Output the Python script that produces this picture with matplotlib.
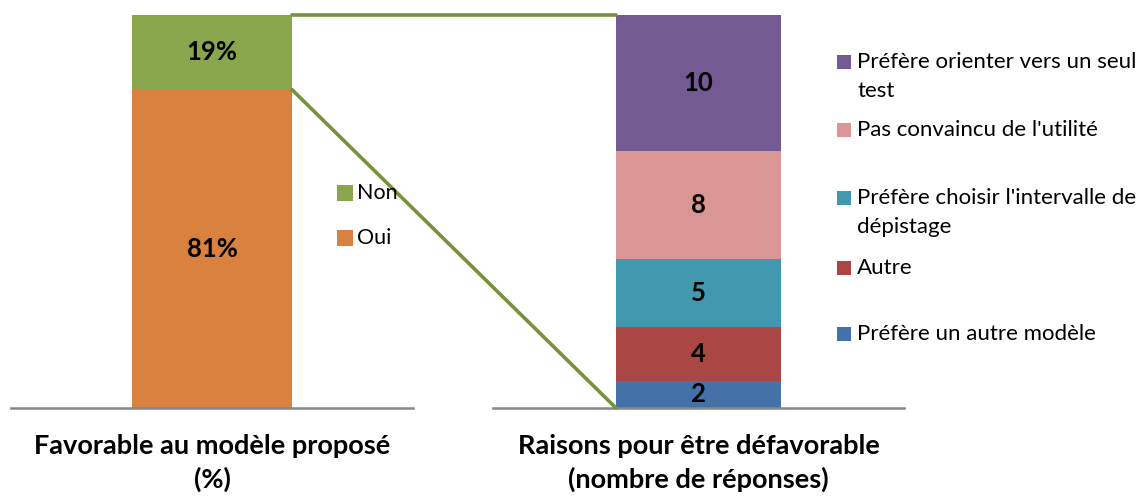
import matplotlib
matplotlib.use("Agg")
import matplotlib.pyplot as plt
from matplotlib.patches import ConnectionPatch, Rectangle

plt.rcParams['font.family'] = ['Lato', 'DejaVu Sans']

# Data
fav_labels = ["Oui", "Non"]
fav_values = [81, 19]
fav_colors = ["#D9823F", "#8AA64D"]

reason_labels = ["Préfère un autre modèle", "Autre",
                 "Préfère choisir l'intervalle de\ndépistage",
                 "Pas convaincu de l'utilité",
                 "Préfère orienter vers un seul\ntest"]
reason_values = [2, 4, 5, 8, 10]
reason_colors = ["#4472A8", "#AA4644", "#4198AF", "#D99694", "#735A92"]

left_title = "Favorable au modèle proposé\n(%)"
right_title = "Raisons pour être défavorable\n(nombre de réponses)"

W, H = 1144, 497
fig = plt.figure(figsize=(W/100, H/100), dpi=100)

def ax_rect(x0, x1, ytop, ybot):
    return [x0/W, 1-ybot/H, (x1-x0)/W, (ybot-ytop)/H]

ax1 = fig.add_axes(ax_rect(11, 413, 15, 408))
ax2 = fig.add_axes(ax_rect(493, 904, 15, 408))

bw1 = 160/402
bw2 = 165/411
for ax in (ax1, ax2):
    for s in ("top", "left", "right"):
        ax.spines[s].set_visible(False)
    ax.spines["bottom"].set_color("#868686")
    ax.spines["bottom"].set_linewidth(1.8)
    ax.set_xticks([])
    ax.set_yticks([])
    ax.set_xlim(-0.5, 0.5)
    ax.patch.set_alpha(0)

LBL = 18.5

# Left stacked bar
bottom = 0
for lab, v, c in zip(fav_labels, fav_values, fav_colors):
    ax1.bar(0, v, bottom=bottom, width=bw1, color=c, label=lab, zorder=2)
    ax1.text(0, bottom + v/2, f"{v}%", ha="center", va="center",
             fontsize=LBL, fontweight="bold", color="black", zorder=3)
    bottom += v
ax1.set_ylim(0, sum(fav_values))

# Right stacked bar
bottom = 0
for lab, v, c in zip(reason_labels, reason_values, reason_colors):
    ax2.bar(0, v, bottom=bottom, width=bw2, color=c, label=lab, zorder=2)
    ax2.text(0, bottom + v/2, f"{v}", ha="center", va="center",
             fontsize=LBL, fontweight="bold", color="black", zorder=3)
    bottom += v
ax2.set_ylim(0, sum(reason_values))

# Titles below axes
for ax, t in ((ax1, left_title), (ax2, right_title)):
    ax.text(0.5, -0.066, t, transform=ax.transAxes, ha="center", va="top",
            fontsize=19.5, fontweight="bold", linespacing=1.4)

# Connecting lines
line_col = "#76923C"
total_r = sum(reason_values)
for y1, y2 in [(sum(fav_values), total_r), (fav_values[0], 0)]:
    cp = ConnectionPatch(xyA=(bw1/2, y1), coordsA=ax1.transData,
                         xyB=(-bw2/2, y2), coordsB=ax2.transData,
                         color=line_col, lw=2.6, zorder=5)
    fig.add_artist(cp)

def legend_item(xm, yc, color, text, s=15, gap=5, dy=29, fs=16):
    fig.add_artist(Rectangle((xm/W, 1-(yc+s/2)/H), s/W, s/H,
                             transform=fig.transFigure, color=color, lw=0,
                             zorder=6))
    for i, line in enumerate(text.split("\n")):
        fig.text((xm+s+gap)/W, 1-(yc + i*dy)/H, line, ha="left", va="center",
                 fontsize=fs, color="black", zorder=7)

# Left legend (Non above Oui)
legend_item(337, 193, fav_colors[1], fav_labels[1], s=16, gap=4, fs=15.5)
legend_item(337, 238, fav_colors[0], fav_labels[0], s=16, gap=4, fs=15.5)

# Right legend (top item = last series)
ys = [334, 268, 198, 130, 62]
for lab, c, yc in zip(reason_labels, reason_colors, ys):
    legend_item(837, yc, c, lab, s=14, gap=6, fs=16)

fig.savefig("out.png", dpi=100)
